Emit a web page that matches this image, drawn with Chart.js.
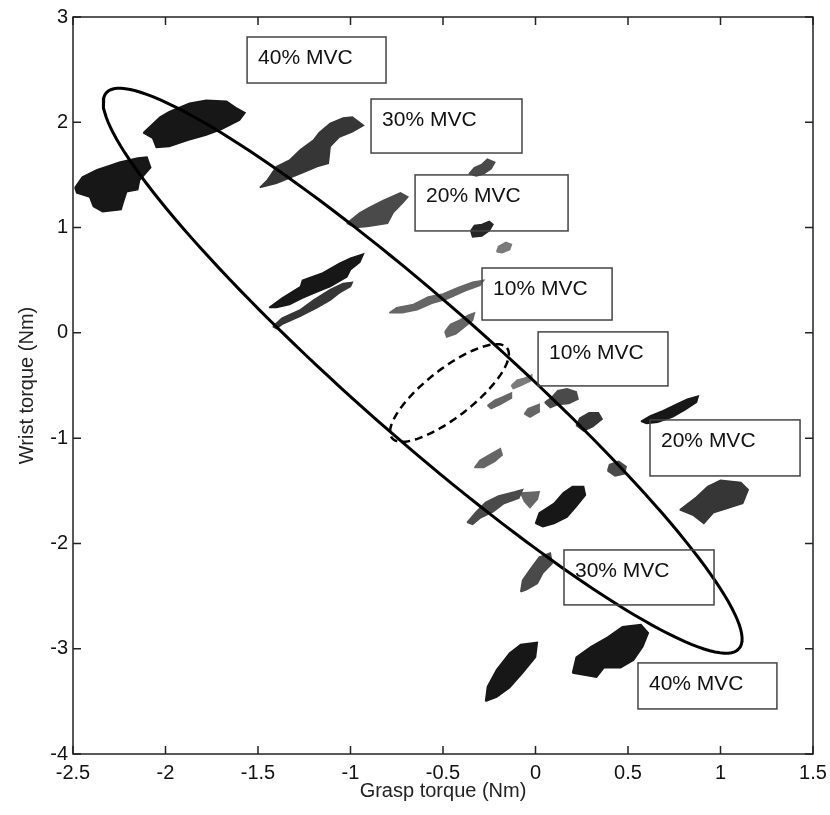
<!DOCTYPE html>
<html>
<head>
<meta charset="utf-8">
<script src="https://cdn.jsdelivr.net/npm/chart.js@4.4.1/dist/chart.umd.min.js"></script>
<style>
  html, body { margin:0; padding:0; background:#fff; }
</style>
</head>
<body>
<canvas id="c" width="830" height="815"></canvas>
<script>
/* ── Ejes ── */
const xTickValues = [-2.5, -2, -1.5, -1, -0.5, 0, 0.5, 1, 1.5];
const xTickLabels = ['-2.5', '-2', '-1.5', '-1', '-0.5', '0', '0.5', '1', '1.5'];
const yTickValues = [-4, -3, -2, -1, 0, 1, 2, 3];
const yTickLabels = ['-4', '-3', '-2', '-1', '0', '1', '2', '3'];

/* ── Nubes de trazas (contornos, en Nm) ── */
const cloud40TopA = [[-2.12,1.90],[-2.03,2.05],[-1.98,2.10],[-1.87,2.18],[-1.78,2.21],[-1.67,2.20],[-1.62,2.14],[-1.57,2.09],[-1.60,2.02],[-1.70,1.93],[-1.78,1.88],[-1.88,1.83],[-1.98,1.77],[-2.05,1.76],[-2.07,1.85]];
const cloud40TopB = [[-2.49,1.38],[-2.45,1.48],[-2.37,1.55],[-2.30,1.59],[-2.25,1.62],[-2.15,1.66],[-2.10,1.67],[-2.08,1.57],[-2.14,1.45],[-2.15,1.36],[-2.21,1.34],[-2.23,1.23],[-2.24,1.17],[-2.34,1.15],[-2.39,1.20],[-2.41,1.29],[-2.48,1.33]];
const cloud30Top = [[-1.49,1.38],[-1.45,1.45],[-1.40,1.58],[-1.33,1.64],[-1.27,1.74],[-1.20,1.83],[-1.17,1.90],[-1.11,1.99],[-1.04,2.04],[-0.99,2.05],[-0.93,1.97],[-0.99,1.91],[-1.06,1.86],[-1.11,1.77],[-1.12,1.61],[-1.18,1.58],[-1.26,1.52],[-1.33,1.47],[-1.40,1.42]];
const cloud20TopA = [[-1.02,1.04],[-0.95,1.14],[-0.90,1.19],[-0.82,1.26],[-0.73,1.33],[-0.69,1.29],[-0.72,1.23],[-0.77,1.14],[-0.80,1.04],[-0.91,1.01],[-0.97,1.00]];
const cloud20TopB = [[-0.36,1.51],[-0.33,1.57],[-0.29,1.60],[-0.26,1.65],[-0.22,1.62],[-0.24,1.56],[-0.28,1.51],[-0.32,1.49]];
const cloud20TopC = [[-0.35,0.97],[-0.33,1.02],[-0.29,1.03],[-0.25,1.06],[-0.23,1.03],[-0.25,0.97],[-0.29,0.92],[-0.34,0.91]];
const cloud10TopA = [[-0.21,0.77],[-0.20,0.82],[-0.16,0.86],[-0.13,0.84],[-0.14,0.79],[-0.18,0.76]];
const cloudMidA = [[-1.44,0.24],[-1.37,0.33],[-1.27,0.44],[-1.26,0.50],[-1.15,0.57],[-1.06,0.66],[-1.00,0.71],[-0.93,0.75],[-0.95,0.67],[-1.00,0.60],[-1.02,0.53],[-1.11,0.44],[-1.18,0.39],[-1.26,0.33],[-1.33,0.27],[-1.40,0.24]];
const cloudMidB = [[-1.42,0.06],[-1.37,0.14],[-1.27,0.22],[-1.20,0.31],[-1.11,0.41],[-1.04,0.47],[-0.99,0.48],[-1.00,0.44],[-1.06,0.38],[-1.11,0.31],[-1.18,0.24],[-1.27,0.16],[-1.37,0.08],[-1.40,0.04]];
const cloud10Chain = [[-0.79,0.19],[-0.75,0.24],[-0.66,0.27],[-0.58,0.34],[-0.50,0.37],[-0.42,0.43],[-0.34,0.48],[-0.28,0.50],[-0.30,0.45],[-0.38,0.40],[-0.48,0.32],[-0.56,0.28],[-0.64,0.22],[-0.72,0.19]];
const cloud10Edge = [[-0.49,0.01],[-0.46,0.08],[-0.41,0.12],[-0.36,0.17],[-0.33,0.19],[-0.34,0.12],[-0.38,0.06],[-0.43,-0.01],[-0.48,-0.04]];
const cloudLowA = [[-0.13,-0.50],[-0.10,-0.45],[-0.06,-0.43],[-0.02,-0.40],[-0.02,-0.45],[-0.08,-0.50],[-0.12,-0.53]];
const cloudLowB = [[-0.26,-0.69],[-0.22,-0.64],[-0.18,-0.61],[-0.13,-0.57],[-0.13,-0.62],[-0.19,-0.68],[-0.24,-0.72]];
const cloudLowC = [[-0.06,-0.77],[-0.04,-0.72],[0.02,-0.68],[0.02,-0.75],[-0.03,-0.80]];
const cloudLowD = [[0.05,-0.66],[0.09,-0.61],[0.12,-0.55],[0.17,-0.53],[0.22,-0.56],[0.23,-0.63],[0.18,-0.67],[0.12,-0.68],[0.08,-0.71]];
const cloudLowE = [[0.22,-0.88],[0.24,-0.81],[0.29,-0.76],[0.34,-0.76],[0.36,-0.82],[0.31,-0.89],[0.26,-0.93]];
const cloudLowF = [[0.39,-1.31],[0.40,-1.25],[0.45,-1.22],[0.49,-1.27],[0.48,-1.34],[0.43,-1.36]];
const cloudLowG = [[-0.33,-1.28],[-0.30,-1.21],[-0.25,-1.16],[-0.19,-1.10],[-0.18,-1.16],[-0.22,-1.22],[-0.28,-1.28]];
const cloud20Right = [[0.57,-0.84],[0.62,-0.79],[0.69,-0.74],[0.76,-0.68],[0.82,-0.63],[0.88,-0.60],[0.87,-0.66],[0.81,-0.73],[0.74,-0.80],[0.66,-0.85],[0.60,-0.86]];
const cloud30Right = [[0.78,-1.68],[0.87,-1.56],[0.93,-1.46],[1.00,-1.40],[1.11,-1.42],[1.15,-1.49],[1.12,-1.62],[1.05,-1.66],[0.96,-1.71],[0.91,-1.81],[0.85,-1.73]];
const cloudBotA = [[-0.37,-1.80],[-0.32,-1.70],[-0.27,-1.61],[-0.20,-1.55],[-0.11,-1.51],[-0.07,-1.49],[-0.09,-1.57],[-0.17,-1.62],[-0.23,-1.70],[-0.30,-1.76],[-0.34,-1.82]];
const cloudBotB = [[-0.08,-1.52],[0.02,-1.51],[0.01,-1.58],[-0.03,-1.66],[-0.06,-1.60]];
const cloudBotC = [[0.00,-1.81],[0.02,-1.71],[0.10,-1.62],[0.15,-1.52],[0.20,-1.46],[0.26,-1.46],[0.27,-1.54],[0.22,-1.65],[0.17,-1.75],[0.10,-1.81],[0.04,-1.84]];
const cloud30Bot = [[-0.08,-2.46],[-0.07,-2.35],[-0.03,-2.25],[0.02,-2.13],[0.08,-2.09],[0.09,-2.19],[0.04,-2.28],[0.01,-2.38],[-0.05,-2.44]];
const cloud40BotA = [[-0.27,-3.50],[-0.26,-3.36],[-0.21,-3.20],[-0.14,-3.04],[-0.08,-2.96],[0.01,-2.94],[0.00,-3.08],[-0.07,-3.23],[-0.14,-3.37],[-0.21,-3.46]];
const cloud40BotB = [[0.20,-3.23],[0.22,-3.08],[0.30,-2.98],[0.39,-2.89],[0.47,-2.79],[0.57,-2.77],[0.61,-2.85],[0.58,-2.98],[0.53,-3.11],[0.46,-3.18],[0.37,-3.18],[0.33,-3.27]];

/* ── Elipses (centro y semiejes conjugados) ── */
const ellipseCenter = [-0.61, -0.36];
const ellipseAxisA = [1.71, -2.64];
const ellipseAxisB = [0.24, 0.48];
const sectionCenter = [-0.465, -0.571];
const sectionAxisA = [0.311, 0.427];
const sectionAxisB = [0.080, -0.180];

/* ── Etiquetas ── */
const labelTexts = ['40% MVC', '30% MVC', '20% MVC', '10% MVC', '10% MVC', '20% MVC', '30% MVC', '40% MVC'];
const labelBoxes = [
  [-1.559, 2.810, -0.808, 2.373],
  [-0.889, 2.221, -0.073, 1.708],
  [-0.651, 1.500, 0.176, 0.968],
  [-0.289, 0.616, 0.414, 0.122],
  [0.014, 0.009, 0.716, -0.504],
  [0.619, -0.827, 1.430, -1.359],
  [0.154, -2.062, 0.965, -2.584],
  [0.554, -3.135, 1.305, -3.572]
];

/* ── Estilos ── */
const FONT = 'Arial, "Liberation Sans", sans-serif';
const shades = { k40:'#171717', k35:'#262626', k30:'#363636', k20:'#4a4a4a', k10:'#666666', k05:'#7a7a7a' };

const clouds = [
  [cloud40TopA,'k40'], [cloud40TopB,'k40'], [cloud30Top,'k30'], [cloud20TopA,'k20'],
  [cloud20TopB,'k20'], [cloud20TopC,'k35'], [cloud10TopA,'k05'], [cloudMidA,'k40'],
  [cloudMidB,'k30'], [cloud10Chain,'k10'], [cloud10Edge,'k10'], [cloudLowA,'k05'],
  [cloudLowB,'k10'], [cloudLowC,'k10'], [cloudLowD,'k20'], [cloudLowE,'k30'],
  [cloudLowF,'k20'], [cloudLowG,'k10'], [cloud20Right,'k40'], [cloud30Right,'k30'],
  [cloudBotA,'k20'], [cloudBotB,'k10'], [cloudBotC,'k40'], [cloud30Bot,'k20'],
  [cloud40BotA,'k40'], [cloud40BotB,'k40']
];

function toXY(pts){ return pts.map(function(p){ return {x:p[0], y:p[1]}; }); }

// contorno de una elipse dada por su centro y dos semiejes conjugados
function ellipsePoints(c, a, b){
  const out = [];
  const n = 160;
  for(let i = 0; i <= n; i++){
    const t = i / n * Math.PI * 2;
    out.push({ x: c[0] + a[0]*Math.cos(t) + b[0]*Math.sin(t), y: c[1] + a[1]*Math.cos(t) + b[1]*Math.sin(t) });
  }
  return out;
}

const datasets = clouds.map(function(cl){
  const col = shades[cl[1]];
  return {
    data: toXY(cl[0].concat([cl[0][0]])),
    borderColor: col, backgroundColor: col, borderWidth: 1.5,
    fill: 'shape', pointRadius: 0, tension: 0, order: 2
  };
});
datasets.push({
  data: ellipsePoints(ellipseCenter, ellipseAxisA, ellipseAxisB),
  borderColor: '#000', borderWidth: 3, fill: false, pointRadius: 0, tension: 0, order: 0
});
datasets.push({
  data: ellipsePoints(sectionCenter, sectionAxisA, sectionAxisB),
  borderColor: '#000', borderWidth: 2.5, borderDash: [8, 5], fill: false, pointRadius: 0, tension: 0, order: 0
});

/* ── Marco, marcas interiores y cuadros de texto ── */
const framePlugin = {
  id: 'frame',
  afterDatasetsDraw(chart){
    const ctx = chart.ctx, a = chart.chartArea, sx = chart.scales.x, sy = chart.scales.y;
    ctx.save();
    ctx.strokeStyle = '#444'; ctx.lineWidth = 1.5;
    ctx.font = '21px ' + FONT; ctx.fillStyle = '#111';
    ctx.textAlign = 'left'; ctx.textBaseline = 'middle';
    labelBoxes.forEach(function(b, i){
      const x1 = sx.getPixelForValue(b[0]), y1 = sy.getPixelForValue(b[1]);
      const x2 = sx.getPixelForValue(b[2]), y2 = sy.getPixelForValue(b[3]);
      ctx.strokeRect(x1, y1, x2 - x1, y2 - y1);
      ctx.fillText(labelTexts[i], x1 + 11, y1 + 21);
    });
    ctx.strokeStyle = '#222'; ctx.lineWidth = 1.5;
    ctx.strokeRect(a.left, a.top, a.right - a.left, a.bottom - a.top);
    ctx.beginPath();
    xTickValues.forEach(function(v){
      const px = sx.getPixelForValue(v);
      ctx.moveTo(px, a.bottom); ctx.lineTo(px, a.bottom - 8);
      ctx.moveTo(px, a.top); ctx.lineTo(px, a.top + 8);
    });
    yTickValues.forEach(function(v){
      const py = sy.getPixelForValue(v);
      ctx.moveTo(a.left, py); ctx.lineTo(a.left + 8, py);
      ctx.moveTo(a.right, py); ctx.lineTo(a.right - 8, py);
    });
    ctx.stroke();
    ctx.restore();
  }
};

new Chart(document.getElementById('c'), {
  type: 'line',
  data: { datasets: datasets },
  options: {
    responsive: false, animation: false, devicePixelRatio: 1,
    layout: { autoPadding: false, padding: { left: 0, right: 17, top: 17, bottom: 0 } },
    plugins: { legend: { display: false }, tooltip: { enabled: false } },
    scales: {
      x: {
        type: 'linear', min: -2.5, max: 1.5,
        afterBuildTicks(s){ s.ticks = xTickValues.map(function(v){ return {value:v}; }); },
        afterFit(s){ s.height = 61; s.paddingLeft = 0; s.paddingRight = 0; },
        ticks: { color: '#111', font: { size: 20, family: FONT }, padding: 7, maxRotation: 0,
          callback: function(v){ const i = xTickValues.indexOf(v); return i >= 0 ? xTickLabels[i] : ''; } },
        grid: { display: false, drawTicks: false },
        border: { display: false },
        title: { display: true, text: 'Grasp torque (Nm)', color: '#222', font: { size: 20, family: FONT }, padding: { top: 4, bottom: 12 } }
      },
      y: {
        type: 'linear', min: -4, max: 3,
        afterBuildTicks(s){ s.ticks = yTickValues.map(function(v){ return {value:v}; }); },
        afterFit(s){ s.width = 73; s.paddingTop = 0; s.paddingBottom = 0; },
        ticks: { color: '#111', font: { size: 20, family: FONT }, padding: 5,
          callback: function(v){ const i = yTickValues.indexOf(v); return i >= 0 ? yTickLabels[i] : ''; } },
        grid: { display: false, drawTicks: false },
        border: { display: false },
        title: { display: true, text: 'Wrist torque (Nm)', color: '#222', font: { size: 20, family: FONT }, padding: { top: 15, bottom: 0 } }
      }
    }
  },
  plugins: [framePlugin]
});
</script>
</body>
</html>
